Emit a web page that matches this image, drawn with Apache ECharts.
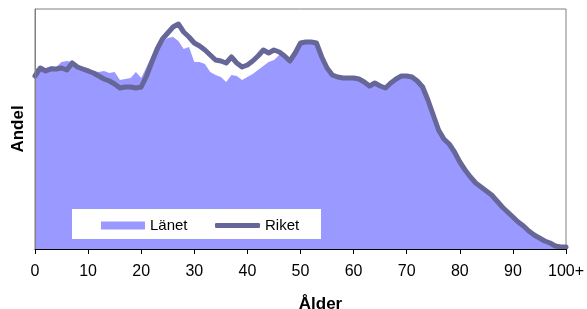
<!DOCTYPE html>
<html>
<head>
<meta charset="utf-8">
<script src="https://cdn.jsdelivr.net/npm/echarts@6/dist/echarts.min.js"></script>
<style>
    html, body { margin: 0; padding: 0; background: #fff; }
    #chart { width: 587px; height: 309px; }
</style>
</head>
<body>
<div id="chart"></div>
<script>
// Ålder 0..99 samt 100+
var ages = [];
for (var a = 0; a < 100; a++) { ages.push(String(a)); }
ages.push('100+');

// Andel per ålder
var lanet = [1.80,1.82,1.81,1.83,1.82,1.87,1.88,1.87,1.84,1.82,
    1.81,1.78,1.77,1.78,1.76,1.77,1.69,1.70,1.71,1.77,
    1.71,1.82,1.93,2.02,2.07,2.11,2.12,2.08,2.00,2.02,
    1.87,1.87,1.85,1.77,1.74,1.72,1.67,1.74,1.73,1.69,
    1.72,1.75,1.79,1.83,1.87,1.89,1.94,1.92,1.89,1.95,
    2.05,2.06,2.06,2.05,1.91,1.80,1.73,1.71,1.70,1.70,
    1.70,1.69,1.66,1.62,1.65,1.62,1.60,1.65,1.69,1.72,
    1.72,1.71,1.67,1.61,1.48,1.33,1.18,1.09,1.05,0.97,
    0.87,0.79,0.73,0.68,0.64,0.60,0.56,0.50,0.43,0.38,
    0.32,0.27,0.23,0.18,0.14,0.11,0.08,0.06,0.03,0.02,
    0.02];

var riket = [1.73,1.81,1.78,1.80,1.80,1.81,1.79,1.86,1.82,1.80,
    1.78,1.76,1.73,1.70,1.68,1.65,1.61,1.62,1.62,1.61,
    1.62,1.73,1.87,2.00,2.10,2.16,2.22,2.25,2.17,2.12,
    2.06,2.03,1.99,1.94,1.89,1.88,1.86,1.92,1.86,1.82,
    1.84,1.88,1.93,1.99,1.96,1.99,1.97,1.93,1.88,1.96,
    2.06,2.07,2.07,2.06,1.92,1.81,1.74,1.72,1.71,1.71,
    1.71,1.70,1.67,1.63,1.66,1.63,1.61,1.66,1.70,1.73,
    1.73,1.72,1.68,1.62,1.49,1.34,1.19,1.10,1.05,0.97,
    0.87,0.79,0.72,0.66,0.62,0.58,0.54,0.48,0.42,0.37,
    0.32,0.27,0.23,0.18,0.14,0.11,0.08,0.06,0.03,0.02,
    0.02];

var myChart = echarts.init(document.getElementById('chart'), null, {renderer: 'canvas'});

var font = 'Liberation Sans, Arial, sans-serif';
var every10 = function (i) { return i % 10 === 0; };

myChart.setOption({
    animation: false,
    textStyle: { fontFamily: font },
    grid: {
        left: 35, right: 21, top: 9, bottom: 60,
        containLabel: false,
        outerBoundsMode: 'none',
        show: true,
        backgroundColor: '#fff',
        borderColor: '#808080',
        borderWidth: 1
    },
    graphic: [{
        type: 'rect',
        z: 10,
        shape: { x: 72, y: 209, width: 249, height: 30 },
        style: { fill: '#fff' }
    }],
    legend: [{
        z: 20,
        left: 101, top: 218,
        padding: 0,
        itemWidth: 44, itemHeight: 8,
        textStyle: { fontSize: 15, color: '#000', fontFamily: font },
        data: [{ name: 'Länet', icon: 'rect' }]
    }, {
        z: 20,
        left: 215, top: 218,
        padding: 0,
        itemWidth: 45, itemHeight: 5,
        textStyle: { fontSize: 15, color: '#000', fontFamily: font },
        data: [{ name: 'Riket', icon: 'roundRect' }]
    }],
    xAxis: {
        type: 'category',
        boundaryGap: false,
        data: ages,
        name: 'Ålder',
        nameLocation: 'middle',
        nameGap: 47,
        nameTextStyle: { fontSize: 17, fontWeight: 'bold', color: '#000', padding: [0, 0, 0, 40] },
        axisLine: { lineStyle: { color: '#000', width: 1 } },
        axisTick: { interval: every10, length: 5, lineStyle: { color: '#000' } },
        axisLabel: { interval: every10, margin: 15, fontSize: 16, color: '#000' },
        splitLine: { show: false },
        z: 5
    },
    yAxis: {
        type: 'value',
        min: 0,
        max: 2.4,
        name: 'Andel',
        nameLocation: 'middle',
        nameRotate: 90,
        nameGap: 8,
        nameTextStyle: { fontSize: 17, fontWeight: 'bold', color: '#000' },
        axisLine: { show: true, lineStyle: { color: '#808080', width: 1 } },
        axisTick: { show: false },
        axisLabel: { show: false },
        splitLine: { show: false },
        z: 5
    },
    series: [{
        name: 'Länet',
        type: 'line',
        data: lanet,
        showSymbol: false,
        symbol: 'none',
        itemStyle: { color: '#9999ff' },
        lineStyle: { width: 0, color: '#9999ff' },
        areaStyle: { color: '#9999ff', opacity: 1 },
        z: 2
    }, {
        name: 'Riket',
        type: 'line',
        data: riket,
        showSymbol: false,
        symbol: 'none',
        itemStyle: { color: '#666699' },
        lineStyle: { width: 5, color: '#666699', cap: 'round', join: 'round' },
        z: 3
    }]
});
</script>
</body>
</html>
